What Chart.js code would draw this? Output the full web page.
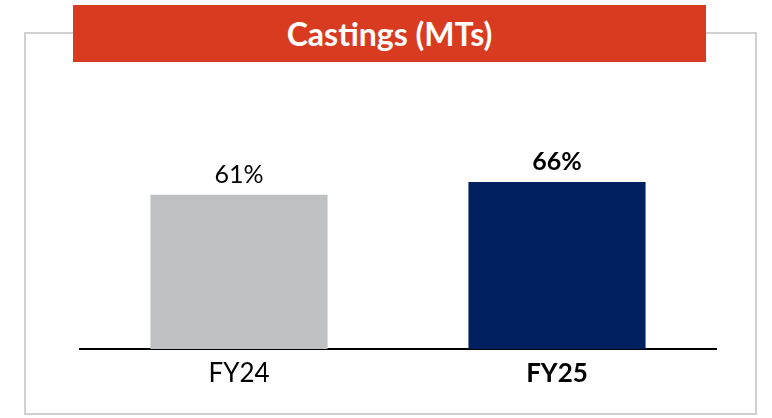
<!DOCTYPE html>
<html>
<head>
<meta charset="utf-8">
<script src="https://cdn.jsdelivr.net/npm/chart.js@4"></script>
<style>
  html, body { margin: 0; padding: 0; background: #fff; }
  body { width: 772px; height: 418px; position: relative; overflow: hidden; font-family: Lato, "DejaVu Sans", sans-serif; }
  #frame { position: absolute; left: 24px; top: 32px; width: 729px; height: 379px; border: 2px solid #d0d0d0; }
  #banner { position: absolute; left: 73px; top: 5px; width: 633px; height: 57px; background: #d93b20;
            color: #fff; font-weight: bold; font-size: 32px; line-height: 57px; text-align: center; }
  #wrap { position: absolute; left: 0; top: 0; width: 772px; height: 418px; }
</style>
</head>
<body>
<div id="frame"></div>
<div id="banner">Castings (MTs)</div>
<div id="wrap"><canvas id="myChart" width="772" height="418"></canvas></div>
<script>
const categories = ['FY24', 'FY25'];
const values = [61, 66];
const barColors = ['#c0c1c3', '#002060'];
const boldLabels = [false, true];

// etiquetas em cima das barras
const valueLabels = {
    id: 'valueLabels',
    afterDatasetsDraw(chart) {
        const ctx = chart.ctx;
        const meta = chart.getDatasetMeta(0);
        ctx.save();
        ctx.textAlign = 'center';
        ctx.textBaseline = 'middle';
        ctx.fillStyle = '#000';
        meta.data.forEach(function (bar, i) {
            ctx.font = (boldLabels[i] ? 'bold ' : '') + '25px Lato, sans-serif';
            ctx.fillText(values[i] + '%', bar.x, bar.y - 20);
        });
        ctx.restore();
    }
};

const ctx = document.getElementById('myChart').getContext('2d');
const chart = new Chart(ctx, {
    type: 'bar',
    data: {
        labels: categories,
        datasets: [{
            data: values,
            backgroundColor: barColors,
            borderWidth: 0,
            categoryPercentage: 1,
            barPercentage: 0.557
        }]
    },
    options: {
        responsive: false,
        animation: false,
        layout: { padding: { left: 80, right: 56, top: 96, bottom: 0 } },
        plugins: {
            legend: { display: false },
            tooltip: { enabled: false }
        },
        scales: {
            x: {
                grid: { display: false },
                border: { display: true, color: '#000', width: 2 },
                afterFit: function (scale) { scale.height = 69; },
                ticks: {
                    color: '#000',
                    padding: 1,
                    font: function (c) {
                        return { family: 'Lato, sans-serif', size: 26, weight: boldLabels[c.index] ? 'bold' : 'normal' };
                    }
                }
            },
            y: {
                display: false,
                min: 0,
                max: 100
            }
        }
    },
    plugins: [valueLabels]
});
</script>
</body>
</html>
